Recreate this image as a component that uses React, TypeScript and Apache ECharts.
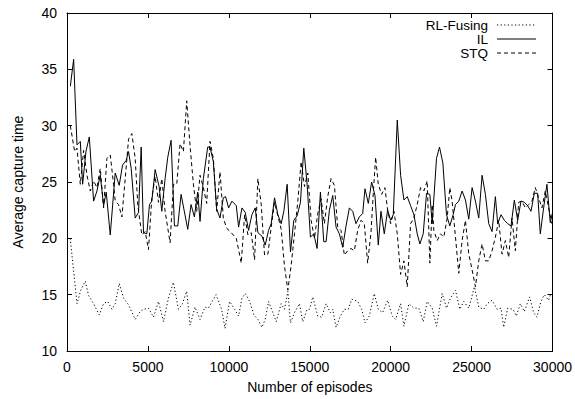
import React, { useEffect, useRef } from "react";
import * as echarts from "echarts";

const xTicks = { min: 0, max: 30000, interval: 5000 };
const yTicks = { min: 10, max: 40, interval: 5 };

const seriesNames = ["RL-Fusing", "IL", "STQ"];

const rlFusing: [number, number][] = [
  [200, 20], [617, 14.2], [850, 15.4], [1130, 16.2], [1336, 14.9], [1644, 14.2], [1994, 13.2], [2260, 14.2],
  [2507, 14.4], [2775, 13.7], [2980, 14.2], [3227, 16.0], [3494, 14.7], [3802, 14.1], [4213, 12.8], [4521, 13.5],
  [4727, 13.7], [5035, 13.8], [5343, 13.0], [5652, 14.4], [5960, 12.6], [6268, 14.7], [6576, 16.1], [6885, 13.7],
  [7131, 14.2], [7398, 15.3], [7604, 12.3], [7912, 13.9], [8220, 12.8], [8529, 13.9], [8734, 13.8], [9207, 15.0],
  [9556, 13.7], [9762, 12.0], [10048, 14.4], [10357, 13.7], [10603, 13.1], [10809, 14.7], [11014, 15.1], [11281, 14.4],
  [11548, 13.2], [11795, 12.8], [12042, 12.1], [12247, 12.8], [12453, 14.4], [12720, 13.4], [12925, 12.6], [13234, 14.2],
  [13439, 13.7], [13645, 15.3], [13809, 12.5], [14056, 13.4], [14364, 14.2], [14569, 12.6], [14836, 13.7], [14980, 13.7],
  [15186, 14.8], [15494, 13.1], [15741, 13.0], [16008, 14.2], [16275, 13.4], [16419, 13.7], [16624, 12.1], [16891, 13.1],
  [17138, 13.7], [17385, 13.7], [17590, 14.6], [17960, 14.4], [18207, 13.7], [18412, 12.5], [18679, 13.1], [18987, 15.1],
  [19234, 13.7], [19501, 13.4], [19810, 14.5], [20098, 13.1], [20304, 12.8], [20612, 14.2], [20818, 12.2], [21126, 14.2],
  [21434, 13.8], [21742, 13.8], [22009, 12.6], [22256, 14.4], [22564, 13.8], [22831, 12.2], [23181, 15.1], [23448, 13.8],
  [23695, 14.7], [24003, 15.4], [24270, 13.7], [24517, 14.4], [24825, 13.8], [25174, 15.7], [25441, 13.9], [25750, 13.7],
  [25955, 14.2], [26263, 14.5], [26572, 13.7], [26818, 13.8], [26983, 12.1], [27229, 13.8], [27558, 13.7], [27763, 13.1],
  [28010, 14.2], [28257, 13.5], [28585, 14.8], [28832, 13.4], [29038, 13.0], [29284, 14.4], [29490, 15.0], [29757, 14.5],
  [29901, 15.1],
];

const il: [number, number][] = [
  [206, 33.5], [411, 35.9], [617, 28.3], [822, 28.6], [966, 24.8], [1171, 27.7], [1377, 29.0], [1644, 23.3],
  [1850, 24.2], [2055, 25.6], [2261, 22.9], [2425, 24.1], [2672, 20.3], [2980, 25.8], [3226, 24.7], [3432, 26.5],
  [3650, 26.9], [3802, 27.7], [3966, 26.2], [4213, 21.8], [4419, 22.3], [4583, 28.1], [4727, 20.5], [4932, 20.4],
  [5097, 23.0], [5241, 23.3], [5446, 26.1], [5692, 24.6], [5857, 22.4], [6062, 25.3], [6227, 27.2], [6432, 28.7],
  [6638, 21.1], [6843, 21.1], [7049, 23.9], [7460, 20.8], [7665, 23.0], [7871, 21.9], [8076, 24.1], [8220, 21.5],
  [8426, 25.3], [8693, 28.1], [8837, 28.1], [9043, 26.8], [9248, 22.6], [9453, 21.8], [9659, 23.6], [9800, 23.7],
  [9987, 22.7], [10192, 23.3], [10459, 22.9], [10603, 21.0], [10809, 22.7], [11014, 22.3], [11220, 20.7], [11425, 22.1],
  [11631, 22.7], [11795, 20.5], [12042, 20.2], [12247, 19.4], [12453, 20.7], [12617, 21.3], [12823, 23.6], [13028, 22.1],
  [13234, 21.3], [13398, 22.4], [13603, 24.8], [13809, 18.8], [14014, 21.6], [14220, 22.0], [14425, 23.2], [14631, 28.0],
  [14836, 24.8], [15042, 20.1], [15247, 20.4], [15453, 19.1], [15658, 24.1], [15864, 19.7], [16008, 19.7], [16213, 22.5],
  [16419, 23.8], [16624, 21.0], [16830, 20.4], [17035, 19.2], [17241, 21.1], [17446, 22.7], [17652, 22.4], [17857, 21.3],
  [18063, 21.9], [18268, 22.2], [18412, 24.4], [18618, 23.1], [18823, 25.0], [19029, 23.8], [19234, 19.4], [19399, 22.4],
  [19604, 20.4], [19810, 22.5], [19996, 21.6], [20160, 22.1], [20407, 30.5], [20612, 25.6], [20818, 23.4], [21023, 23.7],
  [21229, 22.9], [21434, 22.1], [21640, 20.4], [21804, 19.5], [22009, 20.4], [22215, 24.0], [22420, 23.9], [22564, 21.3],
  [22831, 27.1], [23016, 28.1], [23222, 26.7], [23448, 22.1], [23653, 21.1], [23859, 22.1], [24003, 23.0], [24208, 23.3],
  [24414, 24.2], [24619, 23.4], [24825, 21.7], [25030, 24.5], [25236, 23.3], [25441, 21.8], [25647, 25.6], [25852, 23.9],
  [26058, 21.3], [26263, 20.6], [26469, 23.7], [26613, 21.3], [26818, 22.1], [27024, 21.6], [27229, 21.3], [27435, 21.1],
  [27640, 23.4], [27846, 21.6], [28051, 23.3], [28257, 23.2], [28462, 22.9], [28668, 22.4], [28874, 24.0], [29079, 24.0],
  [29243, 20.4], [29449, 22.7], [29654, 24.8], [29860, 21.4], [30000, 22.3],
];

const stq: [number, number][] = [
  [206, 30.0], [473, 27.7], [617, 28.0], [822, 24.8], [1028, 27.8], [1233, 25.6], [1439, 24.2], [1644, 25.1],
  [1850, 24.5], [2055, 26.2], [2261, 22.7], [2466, 27.1], [2672, 27.4], [2877, 24.8], [2980, 23.3], [3186, 23.0],
  [3391, 21.9], [3597, 25.3], [3802, 28.8], [4008, 29.3], [4213, 27.1], [4377, 22.9], [4624, 20.3], [4829, 20.6],
  [5035, 19.0], [5241, 23.6], [5446, 25.5], [5652, 23.2], [5857, 25.3], [6062, 22.4], [6370, 19.6], [6576, 24.8],
  [6781, 24.8], [6987, 28.4], [7192, 27.7], [7398, 32.2], [7604, 28.2], [7809, 24.8], [8015, 22.4], [8220, 25.6],
  [8426, 24.5], [8631, 23.1], [8837, 28.6], [9043, 27.1], [9248, 22.4], [9453, 25.9], [9659, 21.8], [9864, 20.9],
  [10151, 20.5], [10460, 20.0], [10768, 17.8], [10973, 22.1], [11179, 20.3], [11384, 20.5], [11590, 18.1], [11795, 25.3],
  [12001, 23.0], [12206, 18.5], [12412, 18.6], [12617, 21.0], [12823, 23.2], [13028, 22.0], [13234, 20.8], [13439, 17.5],
  [13645, 15.4], [13850, 17.6], [14056, 20.4], [14261, 23.3], [14467, 26.8], [14672, 24.6], [14878, 25.8], [15083, 21.6],
  [15289, 20.0], [15494, 22.2], [15700, 23.5], [15905, 21.3], [16110, 23.7], [16316, 25.3], [16521, 24.7], [16727, 21.0],
  [16932, 20.7], [17138, 18.5], [17343, 18.9], [17549, 19.1], [17754, 18.9], [17960, 20.7], [18165, 21.6], [18371, 21.3],
  [18576, 17.8], [18782, 20.5], [18946, 24.5], [19070, 27.2], [19234, 24.8], [19440, 23.9], [19645, 24.5], [19810, 22.5],
  [19996, 21.3], [20201, 22.4], [20407, 20.4], [20612, 16.8], [20818, 18.0], [21023, 15.7], [21229, 21.3], [21434, 21.8],
  [21640, 23.0], [21845, 24.5], [22051, 24.2], [22256, 25.1], [22420, 17.8], [22564, 23.0], [22667, 20.7], [22873, 19.8],
  [23078, 20.4], [23284, 20.1], [23489, 21.8], [23653, 24.5], [23797, 23.3], [24003, 20.1], [24208, 16.9], [24414, 19.8],
  [24619, 21.6], [24825, 18.6], [25030, 17.2], [25236, 15.7], [25441, 18.0], [25647, 19.5], [25852, 18.0], [26058, 18.0],
  [26263, 18.9], [26469, 20.1], [26674, 21.6], [26880, 18.6], [27085, 19.8], [27291, 18.3], [27496, 21.8], [27702, 18.9],
  [27907, 23.2], [28113, 23.3], [28318, 22.7], [28524, 23.0], [28729, 23.3], [28935, 24.5], [29140, 23.6], [29346, 22.7],
  [29551, 24.2], [29757, 22.7], [29962, 21.3],
];

const FONT = "'Liberation Sans', Arial, Helvetica, sans-serif";
const dotted = [1.2, 2.4];
const dashed = [4, 3];

export default function App() {
  const ref = useRef<HTMLDivElement>(null);
  useEffect(() => {
    if (!ref.current) return;
    const chart = echarts.init(ref.current, undefined, { renderer: "svg" });
    const axisCommon = {
      axisLine: { show: true, onZero: false, lineStyle: { color: "#000", width: 1 } },
      axisTick: { show: true, inside: true, length: 5, lineStyle: { color: "#000", width: 1 } },
      splitLine: { show: false },
    };
    const labelStyle = { color: "#000", fontSize: 14, fontFamily: FONT };
    const legendRows = [
      { name: seriesNames[0], dash: dotted, y: 25 },
      { name: seriesNames[1], dash: null, y: 39 },
      { name: seriesNames[2], dash: dashed, y: 53 },
    ];
    const graphic: any[] = [];
    legendRows.forEach((r) => {
      graphic.push({
        type: "text",
        x: 488,
        y: r.y,
        style: {
          text: r.name,
          fill: "#000",
          font: `13.5px ${FONT}`,
          lineHeight: 13,
          textAlign: "right",
          textVerticalAlign: "middle",
        },
      });
      graphic.push({
        type: "line",
        shape: { x1: 497, y1: r.y, x2: 536, y2: r.y },
        style: { stroke: "#000", lineWidth: 1, lineDash: r.dash || undefined },
      });
    });
    chart.setOption({
      animation: false,
      backgroundColor: "#fff",
      grid: { left: 67, right: 22, top: 13, bottom: 44 },
      xAxis: [
        {
          type: "value",
          ...xTicks,
          ...axisCommon,
          axisLabel: { ...labelStyle, margin: 9, formatter: (v: number) => String(v) },
          name: "Number of episodes",
          nameLocation: "middle",
          nameGap: 29,
          nameTextStyle: labelStyle,
        },
        {
          type: "value",
          position: "top",
          ...xTicks,
          ...axisCommon,
          axisLabel: { show: false },
        },
      ],
      yAxis: [
        {
          type: "value",
          ...yTicks,
          ...axisCommon,
          axisLabel: { ...labelStyle, margin: 10, formatter: (v: number) => String(v) },
          name: "Average capture time",
          nameLocation: "middle",
          nameGap: 42,
          nameTextStyle: labelStyle,
        },
        {
          type: "value",
          position: "right",
          ...yTicks,
          ...axisCommon,
          axisLabel: { show: false },
        },
      ],
      graphic,
      series: [
        {
          name: seriesNames[0],
          type: "line",
          data: rlFusing,
          showSymbol: false,
          symbol: "none",
          lineStyle: { color: "#000", width: 1, type: dotted },
        },
        {
          name: seriesNames[1],
          type: "line",
          data: il,
          showSymbol: false,
          symbol: "none",
          lineStyle: { color: "#000", width: 1, type: "solid" },
        },
        {
          name: seriesNames[2],
          type: "line",
          data: stq,
          showSymbol: false,
          symbol: "none",
          lineStyle: { color: "#000", width: 1, type: dashed },
        },
      ],
    });
    return () => chart.dispose();
  }, []);
  return (
    <div
      ref={ref}
      style={{ position: "fixed", left: 0, top: 0, width: 575, height: 399, background: "#fff" }}
    />
  );
}
